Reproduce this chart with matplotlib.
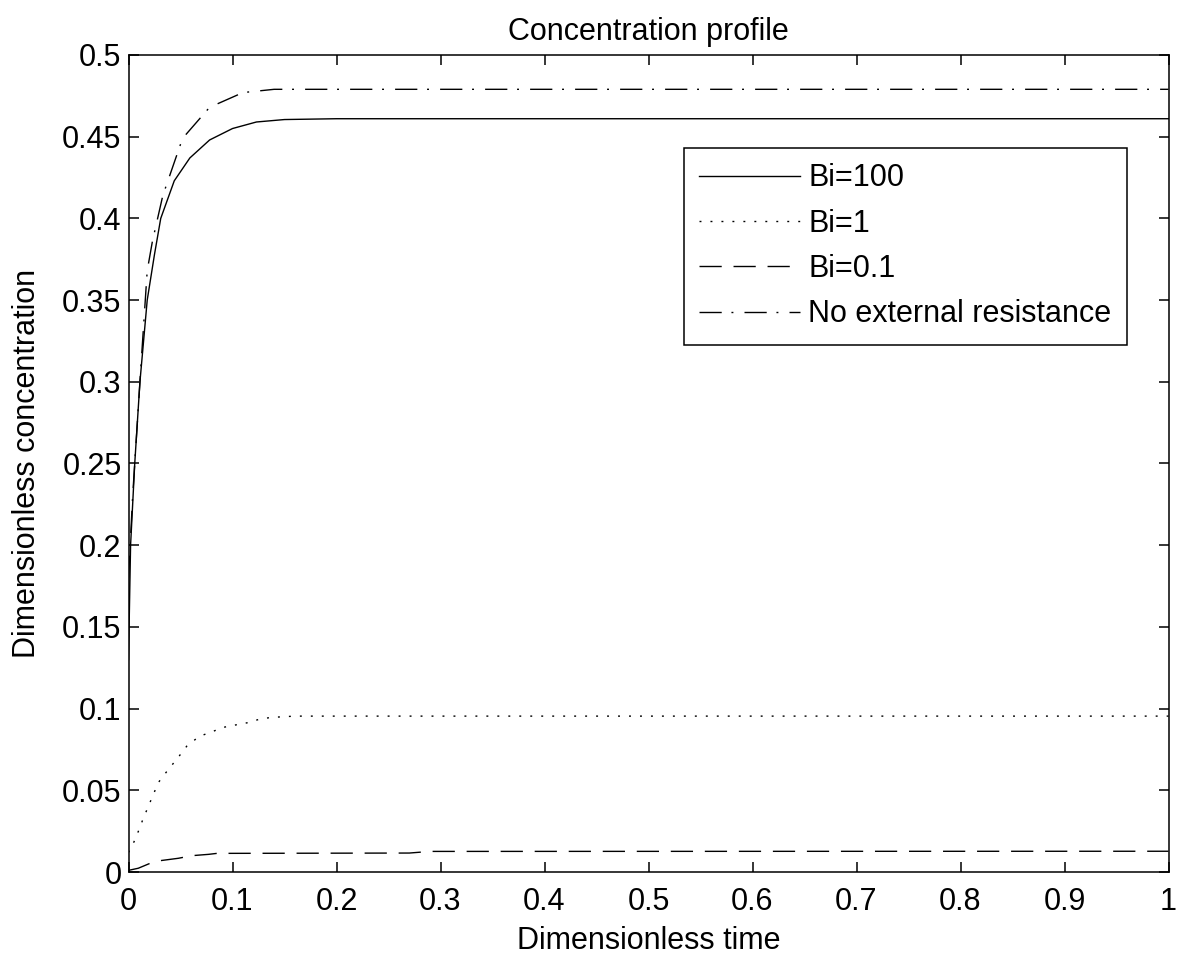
import matplotlib
matplotlib.use("Agg")
import matplotlib.pyplot as plt

plt.rcParams['font.family'] = ['Liberation Sans', 'DejaVu Sans']

# Data
t_bi100 = [0, 0.002, 0.006, 0.011, 0.018, 0.025, 0.031, 0.044, 0.059, 0.078, 0.1, 0.123, 0.15, 0.2, 1.0]
c_bi100 = [0.13, 0.20, 0.25, 0.30, 0.35, 0.378, 0.40, 0.423, 0.437, 0.448, 0.455, 0.459, 0.4605, 0.461, 0.461]

t_bi1 = [0, 0.0053, 0.010, 0.0143, 0.019, 0.024, 0.029, 0.038, 0.047, 0.056, 0.068, 0.079,
         0.091, 0.103, 0.114, 0.126, 0.137, 0.16, 1.0]
c_bi1 = [0.012, 0.0185, 0.0257, 0.033, 0.040, 0.0477, 0.055, 0.0625, 0.0695, 0.077, 0.083, 0.0855,
         0.0885, 0.090, 0.0913, 0.0935, 0.0946, 0.0954, 0.0954]

t_bi01 = [0, 0.0094, 0.0207, 0.030, 0.048, 0.061, 0.077, 0.085, 0.27, 0.29, 1.0]
c_bi01 = [0.001, 0.0023, 0.0053, 0.0069, 0.0084, 0.010, 0.0108, 0.0114, 0.0116, 0.0126, 0.0127]

t_noext = [0, 0.004, 0.008, 0.012, 0.018, 0.023, 0.033, 0.052, 0.078, 0.11, 0.14, 1.0]
c_noext = [0.18, 0.23, 0.27, 0.31, 0.368, 0.386, 0.414, 0.449, 0.468, 0.477, 0.479, 0.479]

labels = ['Bi=100', 'Bi=1', 'Bi=0.1', 'No external resistance']
xticks = [0, 0.1, 0.2, 0.3, 0.4, 0.5, 0.6, 0.7, 0.8, 0.9, 1.0]
xticklabels = ['0', '0.1', '0.2', '0.3', '0.4', '0.5', '0.6', '0.7', '0.8', '0.9', '1']
yticks = [0, 0.05, 0.1, 0.15, 0.2, 0.25, 0.3, 0.35, 0.4, 0.45, 0.5]
yticklabels = ['0', '0.05', '0.1', '0.15', '0.2', '0.25', '0.3', '0.35', '0.4', '0.45', '0.5']

FS = 22

fig = plt.figure(figsize=(11.78, 9.55), dpi=100)
ax = fig.add_axes([128.5 / 1178, 1 - 872 / 955, 1040 / 1178, 817 / 955])

lw = 1.0
ax.plot(t_bi100, c_bi100, color='black', lw=lw, linestyle='-', label=labels[0])
ax.plot(t_bi1, c_bi1, color='black', lw=lw, linestyle=(0, (1.4, 6.5)), label=labels[1])
ax.plot(t_bi01, c_bi01, color='black', lw=lw, linestyle=(0, (16, 8.5)), label=labels[2])
ax.plot(t_noext, c_noext, color='black', lw=lw, linestyle=(0, (16, 7, 1.4, 8)), label=labels[3])

ax.set_xlim(0, 1)
ax.set_ylim(0, 0.5)
ax.set_xticks(xticks)
ax.set_xticklabels(xticklabels)
ax.set_yticks(yticks)
ax.set_yticklabels(yticklabels)
ax.tick_params(direction='in', length=7.5, width=1.1, top=True, right=True,
               labelsize=FS, colors='black')
ax.tick_params(axis='x', pad=11)
ax.tick_params(axis='y', pad=5)
for s in ax.spines.values():
    s.set_linewidth(1.1)

ax.set_title('Concentration profile', fontsize=FS, pad=11)
ax.set_xlabel('Dimensionless time', fontsize=FS, labelpad=6.5)
ax.set_ylabel('Dimensionless concentration', fontsize=FS, labelpad=14.5)

leg = ax.legend(loc='upper left', bbox_to_anchor=(0.534, 0.886), fontsize=FS,
                handlelength=3.3, handletextpad=0.27, labelspacing=0.5,
                borderpad=0.5, borderaxespad=0, fancybox=False, framealpha=1,
                edgecolor='black')
leg.get_frame().set_linewidth(1.1)

fig.savefig('out.png', dpi=100, facecolor='white')
